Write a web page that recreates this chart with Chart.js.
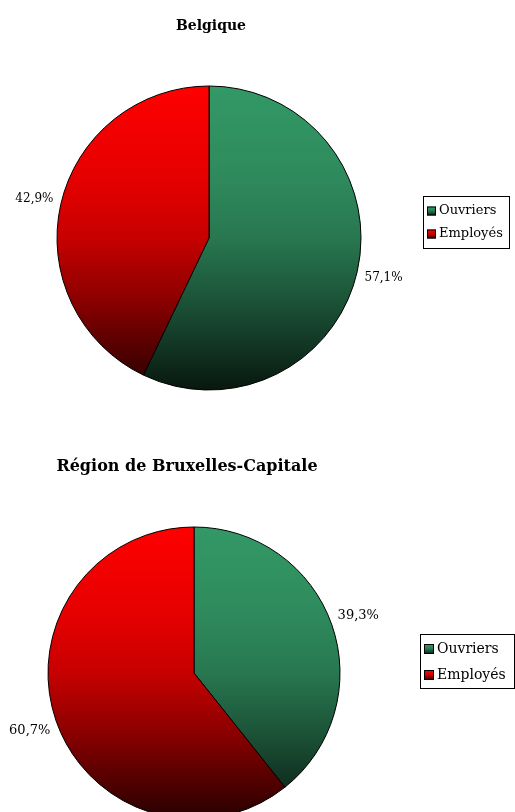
<!DOCTYPE html>
<html>
<head>
<meta charset="utf-8">
<script src="https://cdn.jsdelivr.net/npm/chart.js@4.4.0/dist/chart.umd.min.js"></script>
<style>
  html, body { margin: 0; padding: 0; background: #fff; width: 515px; height: 812px; overflow: hidden; }
  .box { position: absolute; left: 0; width: 515px; }
  #b1 { top: 0; height: 406px; }
  #b2 { top: 420px; height: 420px; }
</style>
</head>
<body>
<div class="box" id="b1"><canvas id="c1"></canvas></div>
<div class="box" id="b2"><canvas id="c2"></canvas></div>
<script>
const categories = ['Ouvriers', 'Employés'];
const titles = ['Belgique', 'Région de Bruxelles-Capitale'];
const valuesBelgique = [57.1, 42.9];
const valuesBruxelles = [39.3, 60.7];
const valueLabelsBelgique = ['57,1%', '42,9%'];
const valueLabelsBruxelles = ['39,3%', '60,7%'];

const baseRGB = [[51, 153, 102], [255, 0, 0]];
const shadeStops = [[0, 1], [0.3, 0.9], [0.5, 0.78], [0.7, 0.55], [0.85, 0.35], [1, 0.15]];
const FONT = '"DejaVu Serif", "Liberation Serif", serif';

function shade(i, f) {
  const c = baseRGB[i];
  return 'rgb(' + Math.round(c[0] * f) + ',' + Math.round(c[1] * f) + ',' + Math.round(c[2] * f) + ')';
}
function makeGrad(ctx2d, i, y0, y1) {
  const g = ctx2d.createLinearGradient(0, y0, 0, y1);
  shadeStops.forEach(s => g.addColorStop(s[0], shade(i, s[1])));
  return g;
}

function gradFill(ctx) {
  const i = ctx.dataIndex || 0;
  const chart = ctx.chart;
  const a = chart.chartArea;
  if (!a || !isFinite(a.top) || a.bottom <= a.top) return shade(i, 1);
  const cy = (a.top + a.bottom) / 2;
  const r = Math.min(a.right - a.left, a.bottom - a.top) / 2;
  return makeGrad(chart.ctx, i, cy - r, cy + r);
}

const decoPlugin = {
  id: 'deco',
  afterDraw(chart, args, opts) {
    const ctx = chart.ctx;
    ctx.save();
    ctx.fillStyle = '#000';
    ctx.font = 'bold ' + opts.titleSize + 'px ' + FONT;
    ctx.textAlign = 'center';
    ctx.textBaseline = 'middle';
    ctx.fillText(opts.title, opts.titleX, opts.titleY);
    const meta = chart.getDatasetMeta(0);
    ctx.font = opts.labelSize + 'px ' + FONT;
    meta.data.forEach((arc, i) => {
      const mid = (arc.startAngle + arc.endAngle) / 2;
      const d = arc.outerRadius + opts.labelOffset;
      const x = arc.x + Math.cos(mid) * d;
      const y = arc.y + Math.sin(mid) * d;
      ctx.fillText(opts.labels[i], x, y);
    });
    const L = opts.legend;
    ctx.strokeStyle = '#000';
    ctx.lineWidth = 1;
    ctx.strokeRect(L.x + 0.5, L.y + 0.5, L.w, L.h);
    ctx.font = opts.legendSize + 'px ' + FONT;
    ctx.textAlign = 'left';
    categories.forEach((c, i) => {
      const cy = L.y + L.first + i * L.step;
      const sx = L.x + 4, s = L.sq;
      ctx.fillStyle = makeGrad(ctx, i, cy - s / 2, cy + s / 2);
      ctx.fillRect(sx, cy - s / 2, s, s);
      ctx.strokeRect(sx + 0.5, cy - s / 2 + 0.5, s - 1, s - 1);
      ctx.fillStyle = '#000';
      ctx.fillText(c, sx + s + 3, cy);
    });
    ctx.restore();
  }
};

function makeChart(id, values, labels, padding, deco) {
  return new Chart(document.getElementById(id), {
    type: 'pie',
    data: {
      labels: categories,
      datasets: [{
        data: values,
        backgroundColor: gradFill,
        hoverBackgroundColor: gradFill,
        borderColor: '#000',
        borderWidth: 1
      }]
    },
    options: {
      responsive: true,
      maintainAspectRatio: false,
      animation: false,
      events: [],
      layout: { padding },
      plugins: {
        legend: { display: false },
        title: { display: false },
        tooltip: { enabled: false },
        deco: Object.assign({ labels }, deco)
      }
    },
    plugins: [decoPlugin]
  });
}

makeChart('c1', valuesBelgique, valueLabelsBelgique,
  { left: 56.5, top: 85.5, right: 153.5, bottom: 15.5 },
  { title: titles[0], titleX: 211, titleY: 26, titleSize: 14,
    labelSize: 12, labelOffset: 27, legendSize: 13,
    legend: { x: 423, y: 196, w: 86, h: 52, first: 15, step: 23, sq: 9 } });

makeChart('c2', valuesBruxelles, valueLabelsBruxelles,
  { left: 47.5, top: 106.5, right: 174.5, bottom: 20.5 },
  { title: titles[1], titleX: 187, titleY: 47, titleSize: 16,
    labelSize: 13, labelOffset: 28, legendSize: 14,
    legend: { x: 420, y: 214, w: 94, h: 54, first: 15, step: 26, sq: 10 } });
</script>
</body>
</html>
